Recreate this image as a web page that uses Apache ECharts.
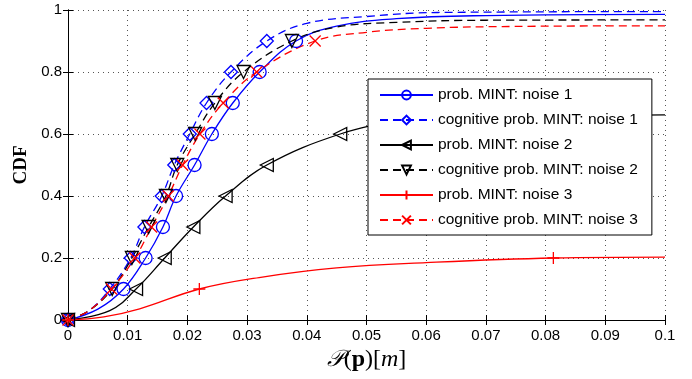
<!DOCTYPE html>
<html>
<head>
<meta charset="utf-8">
<script src="https://cdn.jsdelivr.net/npm/echarts@6/dist/echarts.min.js"></script>
<style>
  html, body { margin: 0; padding: 0; background: #fff; }
  #main { width: 692px; height: 379px; }
</style>
</head>
<body>
<div id="main"></div>
<script>
// CDF levels where MATLAB put the markers (0, 0.1, ... 0.9)
const levels = [0, 0.1, 0.2, 0.3, 0.4, 0.5, 0.6, 0.7, 0.8, 0.9];

const seriesNames = [
  'prob. MINT: noise 1',
  'cognitive prob. MINT: noise 1',
  'prob. MINT: noise 2',
  'cognitive prob. MINT: noise 2',
  'prob. MINT: noise 3',
  'cognitive prob. MINT: noise 3'
];

// x position of each marker (one per level)
const markX1 = [0, 0.0093, 0.0130, 0.0159, 0.0181, 0.0212, 0.0241, 0.0276, 0.0321, 0.0382];
const markX2 = [0, 0.0070, 0.0105, 0.0128, 0.0157, 0.0178, 0.0204, 0.0232, 0.0273, 0.0333];
const markX3 = [0, 0.0114, 0.0162, 0.0210, 0.0264, 0.0333, 0.0456];
const markX4 = [0, 0.0074, 0.0107, 0.0135, 0.0164, 0.0183, 0.0213, 0.0246, 0.0294, 0.0375];
const markX5 = [0, 0.0220, 0.0813];
const markX6 = [0, 0.0073, 0.0112, 0.0140, 0.0168, 0.0192, 0.0221, 0.0260, 0.0316, 0.0414];

// extra curve points without markers
const curveX1 = [0.005, 0.045, 0.055, 0.07, 0.1];
const curveY1 = [0.035, 0.948, 0.972, 0.982, 0.986];
const curveX2 = [0.0035, 0.04, 0.05, 0.062, 0.1];
const curveY2 = [0.03, 0.957, 0.979, 0.992, 0.995];
const curveX3 = [0.007, 0.055, 0.07, 0.1];
const curveY3 = [0.03, 0.638, 0.653, 0.662];
const curveX4 = [0.0035, 0.045, 0.055, 0.07, 0.1];
const curveY4 = [0.03, 0.945, 0.960, 0.967, 0.968];
const curveX5 = [0.006, 0.012, 0.032, 0.045, 0.06, 0.1];
const curveY5 = [0.01, 0.036, 0.137, 0.168, 0.185, 0.203];
const curveX6 = [0.0035, 0.05, 0.06, 0.075, 0.1];
const curveY6 = [0.03, 0.928, 0.941, 0.947, 0.949];

const xTicks = ['0', '0.01', '0.02', '0.03', '0.04', '0.05', '0.06', '0.07', '0.08', '0.09', '0.1'];
const yTicks = ['0', '0.2', '0.4', '0.6', '0.8', '1'];

const BLUE = '#0000ff', BLACK = '#000000', RED = '#ff0000';
const DASH = [8, 5];

function buildData(markX, curveX, curveY) {
  const pts = markX.map((x, i) => ({ value: [x, levels[i]] }));
  curveX.forEach((x, i) => pts.push({ value: [x, curveY[i]], symbol: 'none' }));
  pts.sort((a, b) => a.value[0] - b.value[0]);
  return pts;
}

function mkSeries(name, color, dashed, symbol, rotate, size, data) {
  return {
    name: name,
    type: 'line',
    data: data,
    smooth: 0.4,
    clip: false,
    symbol: symbol,
    symbolSize: size,
    symbolRotate: rotate,
    lineStyle: { color: color, width: 1.3, type: dashed ? DASH : 'solid' },
    itemStyle: { color: 'rgba(0,0,0,0)', borderColor: color, borderWidth: 1.3 },
    emphasis: { disabled: true }
  };
}

const plusPath = 'path://M5,0L5,10M0,5L10,5';
const crossPath = 'path://M0,0L10,10M10,0L0,10';

const chart = echarts.init(document.getElementById('main'));
const axisFont = { fontFamily: '"Liberation Sans", Arial, sans-serif', fontSize: 15, color: '#000' };
const gridDots = { show: true, lineStyle: { type: [1, 4], color: '#555', width: 1 } };

chart.setOption({
  animation: false,
  backgroundColor: '#fff',
  grid: { left: 68, right: 27, top: 10, bottom: 59 },
  xAxis: [{
    type: 'value', min: 0, max: 0.1, interval: 0.01,
    axisLine: { lineStyle: { color: '#000', width: 1 } },
    axisTick: { inside: true, length: 5, lineStyle: { color: '#000' } },
    axisLabel: Object.assign({ margin: 8, formatter: (v, i) => xTicks[i] }, axisFont),
    splitLine: gridDots,
    name: '{cal|𝒫}{r|(}{b|p}{r|)[}{i|m}{r|]}',
    nameLocation: 'middle',
    nameGap: 23,
    nameTextStyle: {
      rich: {
        cal: { fontFamily: '"DejaVu Serif", "Liberation Serif", serif', fontSize: 23, fontStyle: 'italic' },
        r: { fontFamily: '"Liberation Serif", serif', fontSize: 24 },
        b: { fontFamily: '"Liberation Serif", serif', fontSize: 24, fontWeight: 'bold' },
        i: { fontFamily: '"Liberation Serif", serif', fontSize: 24, fontStyle: 'italic' }
      }
    }
  }, {
    type: 'value', min: 0, max: 0.1, interval: 0.01, position: 'top',
    axisLine: { lineStyle: { color: '#000', width: 1 } },
    axisTick: { inside: true, length: 5, lineStyle: { color: '#000' } },
    axisLabel: { show: false }, splitLine: { show: false }
  }],
  yAxis: [{
    type: 'value', min: 0, max: 1, interval: 0.2,
    axisLine: { show: true, lineStyle: { color: '#000', width: 1 } },
    axisTick: { show: true, inside: true, length: 5, lineStyle: { color: '#000' } },
    axisLabel: Object.assign({ margin: 6, formatter: (v, i) => yTicks[i] }, axisFont),
    splitLine: gridDots,
    name: 'CDF',
    nameLocation: 'middle',
    nameGap: 27,
    nameTextStyle: { fontFamily: '"Liberation Serif", serif', fontSize: 19, fontWeight: 'bold', color: '#000' }
  }, {
    type: 'value', min: 0, max: 1, interval: 0.2, position: 'right',
    axisLine: { show: true, lineStyle: { color: '#000', width: 1 } },
    axisTick: { show: true, inside: true, length: 5, lineStyle: { color: '#000' } },
    axisLabel: { show: false }, splitLine: { show: false }
  }],
  legend: {
    left: 368, top: 79,
    orient: 'vertical',
    data: seriesNames,
    itemWidth: 53, itemHeight: 11, itemGap: 9,
    padding: [8, 14, 7, 11],
    backgroundColor: '#fff',
    borderColor: '#000', borderWidth: 1, borderRadius: 0,
    textStyle: { fontFamily: '"Liberation Sans", Arial, sans-serif', fontSize: 15.5, color: '#000' },
    selectedMode: false
  },
  series: [
    mkSeries(seriesNames[0], BLUE, false, 'circle', 0, 13, buildData(markX1, curveX1, curveY1)),
    mkSeries(seriesNames[1], BLUE, true, 'diamond', 0, 13, buildData(markX2, curveX2, curveY2)),
    mkSeries(seriesNames[2], BLACK, false, 'triangle', 90, 13, buildData(markX3, curveX3, curveY3)),
    mkSeries(seriesNames[3], BLACK, true, 'triangle', 180, 13, buildData(markX4, curveX4, curveY4)),
    mkSeries(seriesNames[4], RED, false, plusPath, 0, 12, buildData(markX5, curveX5, curveY5)),
    mkSeries(seriesNames[5], RED, true, crossPath, 0, 11, buildData(markX6, curveX6, curveY6))
  ]
});
window.onresize = () => chart.resize();
</script>
</body>
</html>
